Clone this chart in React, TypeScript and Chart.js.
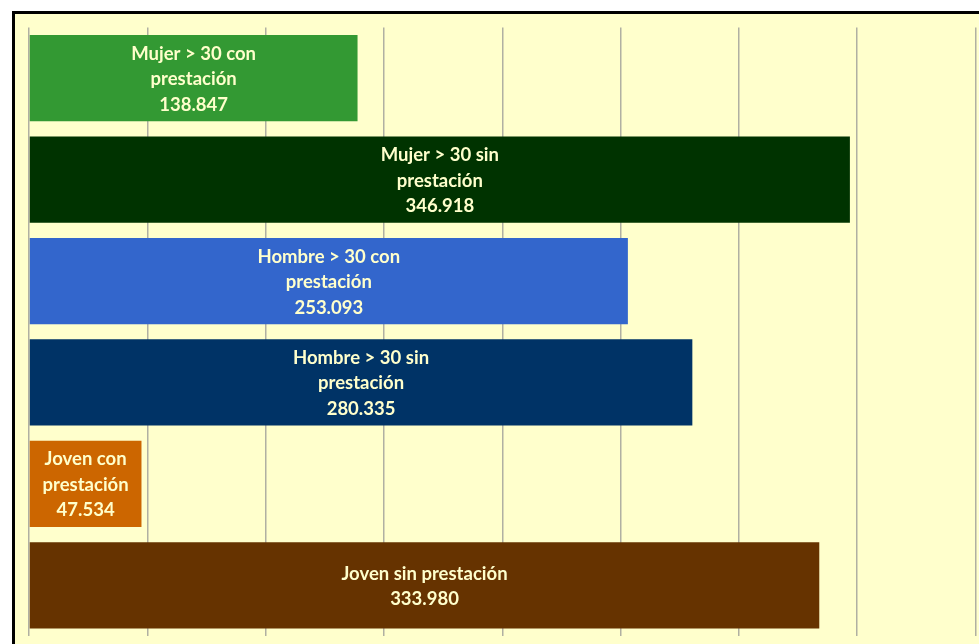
import React, { useEffect, useRef } from "react";
import { Chart, registerables } from "chart.js";

Chart.register(...registerables);

const categoryLines: string[][] = [
  ["Mujer > 30 con", "prestación"],
  ["Mujer > 30 sin", "prestación"],
  ["Hombre > 30 con", "prestación"],
  ["Hombre > 30 sin", "prestación"],
  ["Joven con", "prestación"],
  ["Joven sin prestación"],
];
const values: number[] = [138847, 346918, 253093, 280335, 47534, 333980];
const barColors: string[] = ["#339933", "#003300", "#3366CC", "#003366", "#CC6600", "#663300"];
const axisMin = 0;
const axisMax = 400000;
const axisStep = 50000;

function fmt(v: number): string {
  return String(v).replace(/\B(?=(\d{3})+(?!\d))/g, ".");
}

const labelPlugin = {
  id: "barLabels",
  afterDatasetsDraw(chart: any) {
    const ctx = chart.ctx;
    const meta = chart.getDatasetMeta(0);
    ctx.save();
    ctx.fillStyle = "#FFFFCC";
    ctx.font = "bold 18.5px Lato";
    ctx.textAlign = "center";
    ctx.textBaseline = "middle";
    const lh = 25.5;
    meta.data.forEach((bar: any, i: number) => {
      const lines = [...categoryLines[i], fmt(values[i])];
      const left = bar.base;
      const right = bar.x;
      let cx = (left + right) / 2;
      const maxW = Math.max(...lines.map((l) => ctx.measureText(l).width));
      if (maxW > right - left - 10) cx = left + 6 + maxW / 2;
      const cy = bar.y + 1;
      const start = cy - ((lines.length - 1) * lh) / 2;
      lines.forEach((l, j) => ctx.fillText(l, cx, start + j * lh));
    });
    ctx.restore();
  },
};

export default function App() {
  const ref = useRef<HTMLCanvasElement | null>(null);
  useEffect(() => {
    if (!ref.current) return;
    const chart = new Chart(ref.current, {
      type: "bar",
      data: {
        labels: categoryLines.map((l) => l.join(" ")),
        datasets: [
          {
            data: values,
            backgroundColor: barColors,
            borderWidth: 0,
            barPercentage: 0.85,
            categoryPercentage: 1,
          },
        ],
      },
      options: {
        indexAxis: "y",
        animation: false,
        responsive: false,
        maintainAspectRatio: false,
        layout: { padding: { left: 29, right: 3.5, top: 27.5, bottom: 8 } },
        plugins: { legend: { display: false }, tooltip: { enabled: false } },
        scales: {
          y: { display: false },
          x: {
            min: axisMin,
            max: axisMax,
            ticks: { display: false, stepSize: axisStep },
            grid: { color: "#B0B0A2", lineWidth: 1.5, drawTicks: false },
            border: { display: false },
          },
        },
      },
      plugins: [labelPlugin],
    });
    return () => chart.destroy();
  }, []);
  return (
    <div style={{ position: "fixed", left: 0, top: 0, width: 979, height: 644, overflow: "hidden", background: "#fff" }}>
      <div
        style={{
          position: "absolute",
          left: 12,
          top: 11,
          width: 1100,
          height: 800,
          borderLeft: "3px solid #000",
          borderTop: "3px solid #000",
          background: "#FFFFCC",
        }}
      />
      <canvas ref={ref} width={979} height={644} style={{ position: "absolute", left: 0, top: 0, width: 979, height: 644 }} />
    </div>
  );
}
